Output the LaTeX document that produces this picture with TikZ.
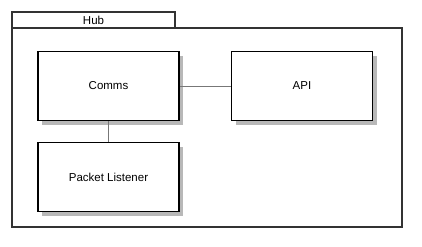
\documentclass[tikz,border=0pt]{standalone}
\usepackage{fontspec}
\setmainfont{Liberation Sans}
\usepackage{tikz}

\definecolor{framegray}{HTML}{333333}
\definecolor{linkgray}{HTML}{777777}
\definecolor{shadowgray}{HTML}{B8B8B8}

\begin{document}
\begin{tikzpicture}[x=1pt,y=-1pt]
		\tikzstyle{every node}+=[font=\fontsize{11.5}{13}\selectfont]
		\tikzstyle{part}=[draw=black, line width=1.6pt, fill=white, minimum width=141pt, minimum height=69pt, inner sep=0pt]
		\tikzstyle{shadow}=[fill=shadowgray, draw=none, minimum width=141pt, minimum height=69pt, inner sep=0pt]
		\tikzstyle{link}=[draw=linkgray, line width=1pt]
		\useasboundingbox (0,0) rectangle (422,246);
		% package frame with its tab
		\draw [framegray, line width=1.6pt] (12,28) rectangle (402,227);
		\draw [framegray, line width=1.4pt, fill=white] (12,12) rectangle (175,28);
		\node (hub) at (93.5,20) {Hub};
		% shadows behind the parts
		\node [shadow] at (112.5,90) {};
		\node [shadow] at (306,90) {};
		\node [shadow] at (112.5,181) {};
		% parts
		\node [part] (comms) at (108.5,86) {Comms};
		\node [part] (api) at (302,86) {API};
		\node [part] (listener) at (108.5,177) {Packet Listener};
		% connectors
		\draw [link] (comms.east) -- (api.west);
		\draw [link] (comms.south) -- (listener.north);
\end{tikzpicture}
\end{document}
